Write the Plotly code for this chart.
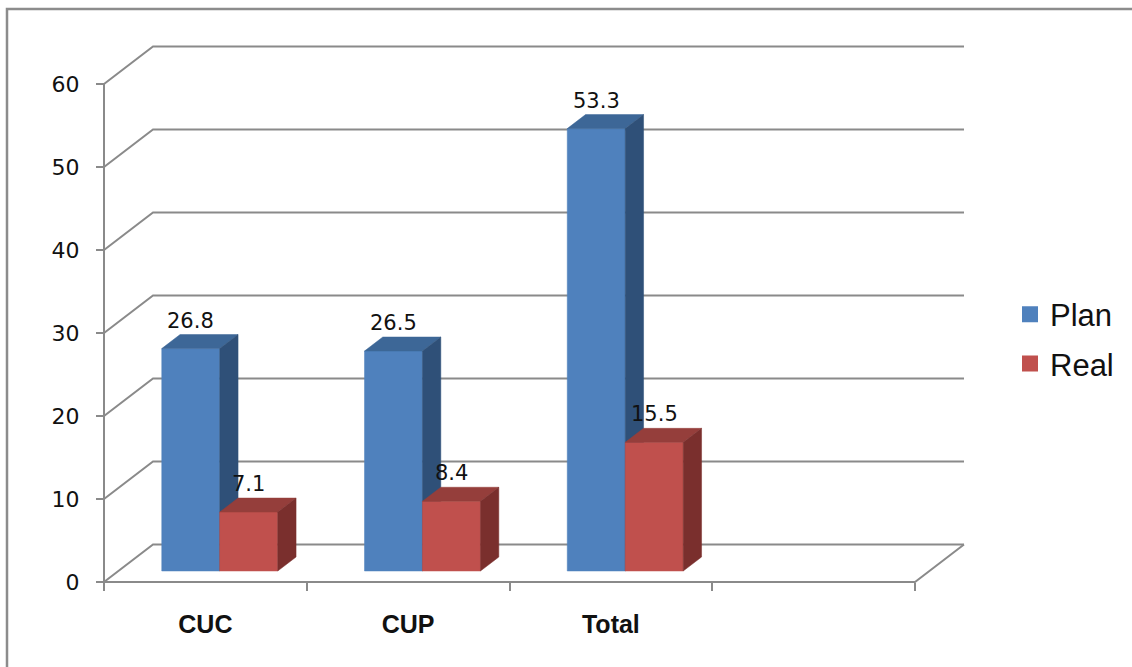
import plotly.graph_objects as go

# ---------------- data ----------------
categories = ["CUC", "CUP", "Total"]
plan = [26.8, 26.5, 53.3]
real = [7.1, 8.4, 15.5]
series_names = ["Plan", "Real"]
y_ticks = [0, 10, 20, 30, 40, 50, 60]
n_slots = 4  # Excel leaves an empty 4th category slot

# ---------------- style ----------------
STYLE = {
    "Plan": dict(front="#4F81BD", top="#3D6797", side="#2F5078"),
    "Real": dict(front="#C0504D", top="#953E3B", side="#7A2F2D"),
}
GRID = "#8A8A8A"

# oblique projection (axis units)
XD = 0.2417   # depth shift along x (category units)
YD = 4.52     # depth shift along y (value units)
D1, D2 = 0.293, 0.667   # bar front / back depth fraction
BW = 0.286              # bar width (category units)

# figure pixel geometry
W, H = 1132, 667
L, T = 90, 36
PW, PH = 885, 559
X0PX, Y0PX = 104, 582
PX_PER_CAT, PX_PER_VAL = 202.75, 8.3
x_range = [-(X0PX - L) / PX_PER_CAT, (L + PW - X0PX) / PX_PER_CAT]
y_range = [-(T + PH - Y0PX) / PX_PER_VAL, (Y0PX - T) / PX_PER_VAL]


def px_x(p):
    return (p - L) / PW


def px_y(p):
    return (T + PH - p) / PH


fig = go.Figure()

# ---------- walls / gridlines ----------
gx, gy = [], []
for v in y_ticks:
    # left wall diagonal + back wall line
    gx += [0, XD, n_slots + XD, None]
    gy += [v, v + YD, v + YD, None]
# floor: front edge, right diagonal
gx += [0, n_slots, n_slots + XD, None]
gy += [0, 0, YD, None]
# front vertical axis
gx += [0, 0, None]
gy += [0, y_ticks[-1], None]
fig.add_trace(go.Scatter(x=gx, y=gy, mode="lines",
                         line=dict(color=GRID, width=2),
                         hoverinfo="skip", showlegend=False))

# ---------- 3D bars ----------
def poly(xs, ys, color):
    fig.add_trace(go.Scatter(x=xs + [xs[0]], y=ys + [ys[0]], mode="lines",
                             fill="toself", fillcolor=color,
                             line=dict(color=color, width=0.5),
                             hoverinfo="skip", showlegend=False))

annotations = []
for i, cat in enumerate(categories):
    for name, vals, off in (("Plan", plan, -BW), ("Real", real, 0.0)):
        v = vals[i]
        c = STYLE[name]
        a = i + 0.5 + off
        b = a + BW
        fx0, fx1 = a + D1 * XD, b + D1 * XD
        bx0, bx1 = a + D2 * XD, b + D2 * XD
        fy0, fy1 = D1 * YD, v + D1 * YD
        by0, by1 = D2 * YD, v + D2 * YD
        # front face
        poly([fx0, fx1, fx1, fx0], [fy0, fy0, fy1, fy1], c["front"])
        # top face
        poly([fx0, fx1, bx1, bx0], [fy1, fy1, by1, by1], c["top"])
        # side face
        poly([fx1, bx1, bx1, fx1], [fy0, by0, by1, fy1], c["side"])
        annotations.append(dict(x=(fx0 + fx1) / 2, y=by1, xref="x", yref="y",
                                text=f"{v}", showarrow=False, yanchor="bottom",
                                yshift=0,
                                font=dict(family="DejaVu Sans", size=21, color="#111")))

# ---------- legend entries ----------
for name in series_names:
    fig.add_trace(go.Scatter(x=[None], y=[None], mode="markers", name=name,
                             legendgroup=name,
                             marker=dict(symbol="square", size=16,
                                         color=STYLE[name]["front"])))

fig.update_layout(
    width=W, height=H, autosize=False,
    margin=dict(l=L, r=W - L - PW, t=T, b=H - T - PH, pad=0),
    paper_bgcolor="white", plot_bgcolor="white",
    showlegend=True,
    legend=dict(x=px_x(1010), y=px_y(339), xanchor="left", yanchor="middle",
                font=dict(family="Liberation Sans", size=31, color="#111"),
                tracegroupgap=6, bgcolor="rgba(0,0,0,0)"),
    xaxis=dict(range=x_range, showgrid=False, zeroline=False, showline=False,
               anchor="free", position=px_y(Y0PX),
               tickmode="array", tickvals=[0.5, 1.5, 2.5], ticktext=categories,
               ticks="", ticklabelstandoff=25,
               tickfont=dict(family="Liberation Sans", size=25, color="#111",
                             weight="bold"),
               minor=dict(tickmode="array", tickvals=list(range(n_slots + 1)),
                          ticks="outside", ticklen=8, tickwidth=2,
                          tickcolor=GRID, showgrid=False)),
    yaxis=dict(range=y_range, showgrid=False, zeroline=False, showline=False,
               anchor="free", position=px_x(X0PX),
               tickmode="array", tickvals=y_ticks,
               ticks="outside", ticklen=8, tickwidth=2, tickcolor=GRID,
               ticklabelstandoff=12,
               tickfont=dict(family="DejaVu Sans", size=22, color="#111")),
    annotations=annotations,
    shapes=[dict(type="rect", xref="paper", yref="paper",
                 x0=px_x(7), x1=px_x(1150), y0=px_y(690), y1=px_y(9),
                 line=dict(color="#8C8C8C", width=2.5), layer="below")],
)

fig.write_html("out.html")
